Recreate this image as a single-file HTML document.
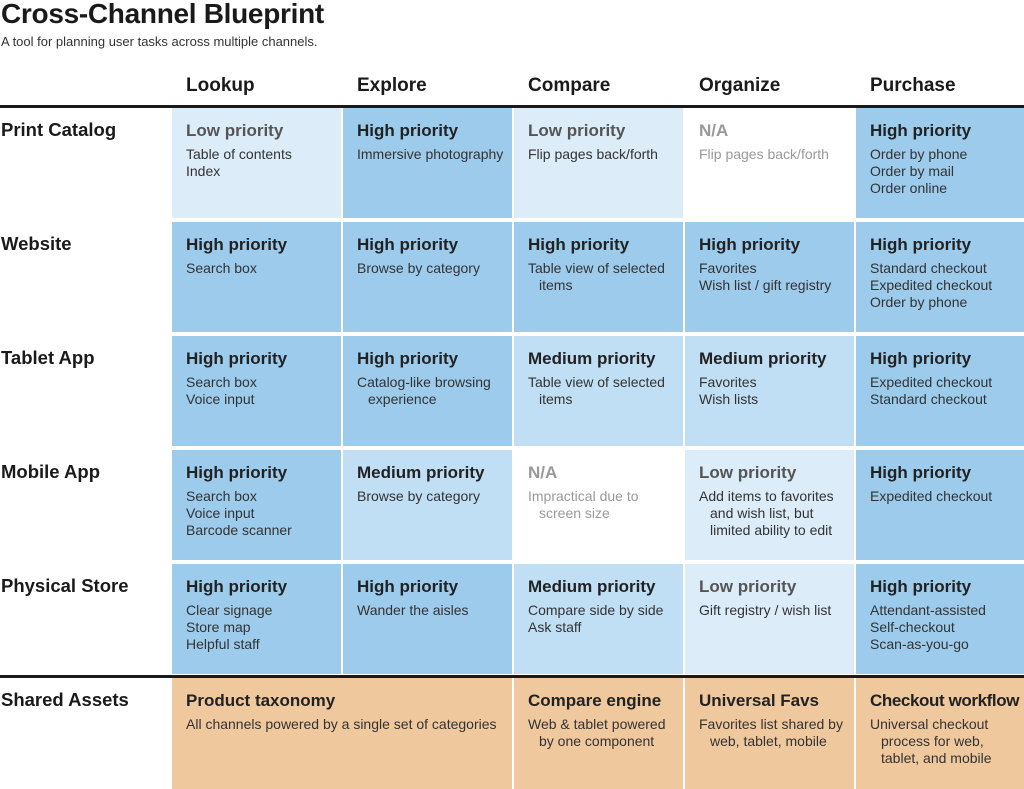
<!DOCTYPE html>
<html><head><style>
body{margin:0;width:1024px;height:789px;background:#fff;font-family:"Liberation Sans",Arial,sans-serif;position:relative;overflow:hidden;color:#1a1a1a}
.a{position:absolute}
h1{position:absolute;left:1px;top:-2px;margin:0;font-size:28px;font-weight:bold;letter-spacing:-0.3px}
.sub{left:1px;top:34px;font-size:13px;color:#333}
.ch{top:75px;font-size:19px;font-weight:bold}
.rl{left:1px;font-size:18.5px;font-weight:bold}
.c{position:absolute;width:169px;height:110px;box-sizing:border-box;padding:13px 0 0 14px}
.c b{display:block;font-size:17px;margin-bottom:5px;color:#222}
.c div{font-size:14px;line-height:17px;color:#333}
.c i{font-style:normal;display:block;padding-left:11px}
.H{background:#9ccbec}.M{background:#c0def4}.L{background:#dcecf9}.N{background:#fff}.O{background:#f0c89e}
.L b{color:#555}.N b,.N div{color:#999}
.line{left:0;width:1024px;height:3px;background:#1a1a1a}
</style></head><body>
<h1>Cross-Channel Blueprint</h1>
<div class="a sub">A tool for planning user tasks across multiple channels.</div>
<div class="a ch" style="left:186px">Lookup</div>
<div class="a ch" style="left:357px">Explore</div>
<div class="a ch" style="left:528px">Compare</div>
<div class="a ch" style="left:699px">Organize</div>
<div class="a ch" style="left:870px">Purchase</div>
<div class="a line" style="top:105px"></div>
<div class="a rl" style="top:119px">Print Catalog</div>
<div class="a rl" style="top:233px">Website</div>
<div class="a rl" style="top:347px">Tablet App</div>
<div class="a rl" style="top:461px">Mobile App</div>
<div class="a rl" style="top:575px">Physical Store</div>
<div class="a rl" style="top:689px">Shared Assets</div>

<div class="c L" style="left:172px;top:108px"><b>Low priority</b><div>Table of contents<br>Index</div></div>
<div class="c H" style="left:343px;top:108px"><b>High priority</b><div>Immersive photography</div></div>
<div class="c L" style="left:514px;top:108px"><b>Low priority</b><div>Flip pages back/forth</div></div>
<div class="c N" style="left:685px;top:108px"><b>N/A</b><div>Flip pages back/forth</div></div>
<div class="c H" style="left:856px;top:108px;width:168px"><b>High priority</b><div>Order by phone<br>Order by mail<br>Order online</div></div>

<div class="c H" style="left:172px;top:222px"><b>High priority</b><div>Search box</div></div>
<div class="c H" style="left:343px;top:222px"><b>High priority</b><div>Browse by category</div></div>
<div class="c H" style="left:514px;top:222px"><b>High priority</b><div>Table view of selected<i>items</i></div></div>
<div class="c H" style="left:685px;top:222px"><b>High priority</b><div>Favorites<br>Wish list / gift registry</div></div>
<div class="c H" style="left:856px;top:222px;width:168px"><b>High priority</b><div>Standard checkout<br>Expedited checkout<br>Order by phone</div></div>

<div class="c H" style="left:172px;top:336px"><b>High priority</b><div>Search box<br>Voice input</div></div>
<div class="c H" style="left:343px;top:336px"><b>High priority</b><div>Catalog-like browsing<i>experience</i></div></div>
<div class="c M" style="left:514px;top:336px"><b>Medium priority</b><div>Table view of selected<i>items</i></div></div>
<div class="c M" style="left:685px;top:336px"><b>Medium priority</b><div>Favorites<br>Wish lists</div></div>
<div class="c H" style="left:856px;top:336px;width:168px"><b>High priority</b><div>Expedited checkout<br>Standard checkout</div></div>

<div class="c H" style="left:172px;top:450px"><b>High priority</b><div>Search box<br>Voice input<br>Barcode scanner</div></div>
<div class="c M" style="left:343px;top:450px"><b>Medium priority</b><div>Browse by category</div></div>
<div class="c N" style="left:514px;top:450px"><b>N/A</b><div>Impractical due to<i>screen size</i></div></div>
<div class="c L" style="left:685px;top:450px"><b>Low priority</b><div>Add items to favorites<i>and wish list, but</i><i>limited ability to edit</i></div></div>
<div class="c H" style="left:856px;top:450px;width:168px"><b>High priority</b><div>Expedited checkout</div></div>

<div class="c H" style="left:172px;top:564px"><b>High priority</b><div>Clear signage<br>Store map<br>Helpful staff</div></div>
<div class="c H" style="left:343px;top:564px"><b>High priority</b><div>Wander the aisles</div></div>
<div class="c M" style="left:514px;top:564px"><b>Medium priority</b><div>Compare side by side<br>Ask staff</div></div>
<div class="c L" style="left:685px;top:564px"><b>Low priority</b><div>Gift registry / wish list</div></div>
<div class="c H" style="left:856px;top:564px;width:168px"><b>High priority</b><div>Attendant-assisted<br>Self-checkout<br>Scan-as-you-go</div></div>

<div class="a line" style="top:675px"></div>
<div class="c O" style="left:172px;top:678px;width:340px;height:111px"><b>Product taxonomy</b><div>All channels powered by a single set of categories</div></div>
<div class="c O" style="left:514px;top:678px;height:111px"><b>Compare engine</b><div>Web &amp; tablet powered<i>by one component</i></div></div>
<div class="c O" style="left:685px;top:678px;height:111px"><b>Universal Favs</b><div>Favorites list shared by<i>web, tablet, mobile</i></div></div>
<div class="c O" style="left:856px;top:678px;width:168px;height:111px"><b style="letter-spacing:-0.4px">Checkout workflow</b><div>Universal checkout<i>process for web,</i><i>tablet, and mobile</i></div></div>
</body></html>
